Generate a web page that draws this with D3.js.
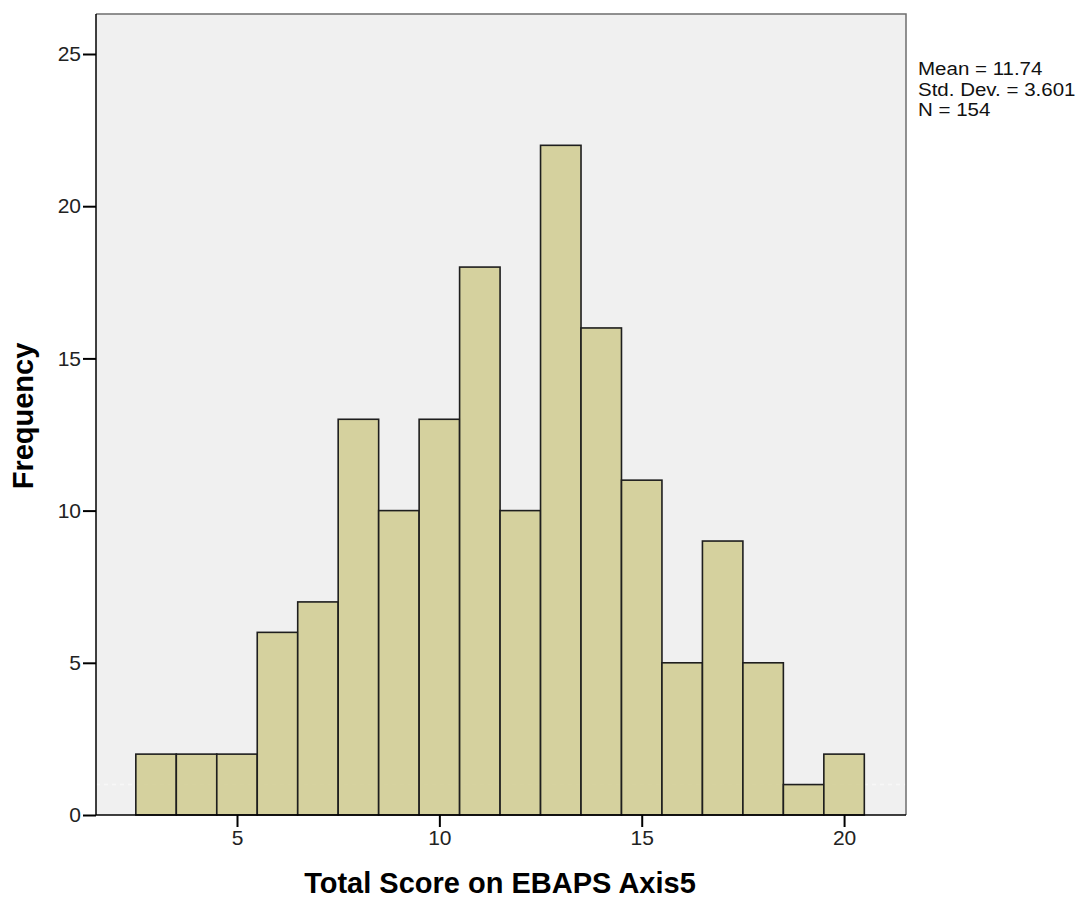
<!DOCTYPE html>
<html><head><meta charset="utf-8">
<script src="https://cdn.jsdelivr.net/npm/d3@7"></script>
<style>body{margin:0;background:#fff}svg{display:block}text{font-family:"Liberation Sans",Arial,sans-serif}</style>
</head><body><svg id="c" width="1082" height="901"></svg>
<script>
const binStarts = [2.5,3.5,4.5,5.5,6.5,7.5,8.5,9.5,10.5,11.5,12.5,13.5,14.5,15.5,16.5,17.5,18.5,19.5];
const frequencies = [2,2,2,6,7,13,10,13,18,10,22,16,11,5,9,5,1,2];
const binWidth = 1;
const xTicks = [5,10,15,20];
const yTicks = [0,5,10,15,20,25];
const statsLines = ["Mean = 11.74","Std. Dev. = 3.601","N = 154"];
const xTitle = "Total Score on EBAPS Axis5";
const yTitle = "Frequency";

const L=96,R=906,T=14,B=815;
const svg=d3.select("#c");
const x=d3.scaleLinear().domain([1.516,21.53]).range([L,R]);
const y=d3.scaleLinear().domain([0,25]).range([B,54]);

svg.append("rect").attr("x",L).attr("y",T).attr("width",R-L).attr("height",B-T).attr("fill","#f0f0f0");

svg.append("line").attr("x1",L).attr("x2",R).attr("y1",y(1)).attr("y2",y(1))
  .attr("stroke","#ffffff").attr("stroke-width",1.5).attr("stroke-dasharray","4,4").attr("opacity",0.5);

svg.selectAll("rect.bar").data(binStarts).enter().append("rect").attr("class","bar")
  .attr("x",d=>x(d)).attr("width",(d)=>x(d+binWidth)-x(d))
  .attr("y",(d,i)=>y(frequencies[i])).attr("height",(d,i)=>B-y(frequencies[i]))
  .attr("fill","#d3ce97").attr("fill-opacity",0.92).attr("stroke","#1e1e1e").attr("stroke-width",1.6);

svg.append("path").attr("d",`M${L},${T}H${R}V${B}`).attr("fill","none").attr("stroke","#6e6e6e").attr("stroke-width",1.5);

const ya=svg.append("g").attr("transform",`translate(${L},0)`)
  .call(d3.axisLeft(y).tickValues(yTicks).tickSize(13).tickPadding(2).tickFormat(d3.format("d")));
ya.select(".domain").attr("d",`M0,${B}V${T}`).attr("stroke","#000").attr("stroke-width",1.5);
const xa=svg.append("g").attr("transform",`translate(0,${B})`)
  .call(d3.axisBottom(x).tickValues(xTicks).tickSize(12).tickPadding(3).tickFormat(d3.format("d")));
xa.select(".domain").attr("d",`M${L},0H${R}`).attr("stroke","#000").attr("stroke-width",1.5);
svg.selectAll(".tick line").attr("stroke","#000").attr("stroke-width",2);
svg.selectAll(".tick text").attr("font-size",21).attr("fill","#222").attr("font-family","Liberation Sans, Arial, sans-serif");
xa.selectAll(".tick text").attr("dy","0.72em");

svg.append("text").attr("x",500).attr("y",893).attr("text-anchor","middle")
  .attr("font-size",29).attr("font-weight","bold").attr("fill","#000").text(xTitle);
svg.append("text").attr("transform","translate(33,416) rotate(-90)").attr("text-anchor","middle")
  .attr("font-size",29).attr("font-weight","bold").attr("fill","#000").text(yTitle);

const st=svg.selectAll("text.stat").data(statsLines).enter().append("text").attr("class","stat")
  .attr("x",918).attr("y",(d,i)=>75+i*20.5).attr("font-size",17.5).attr("fill","#111").text(d=>d);
st.each(function(){const w=this.getComputedTextLength();d3.select(this).attr("textLength",w*20.5/17.5).attr("lengthAdjust","spacingAndGlyphs");});
</script></body></html>
